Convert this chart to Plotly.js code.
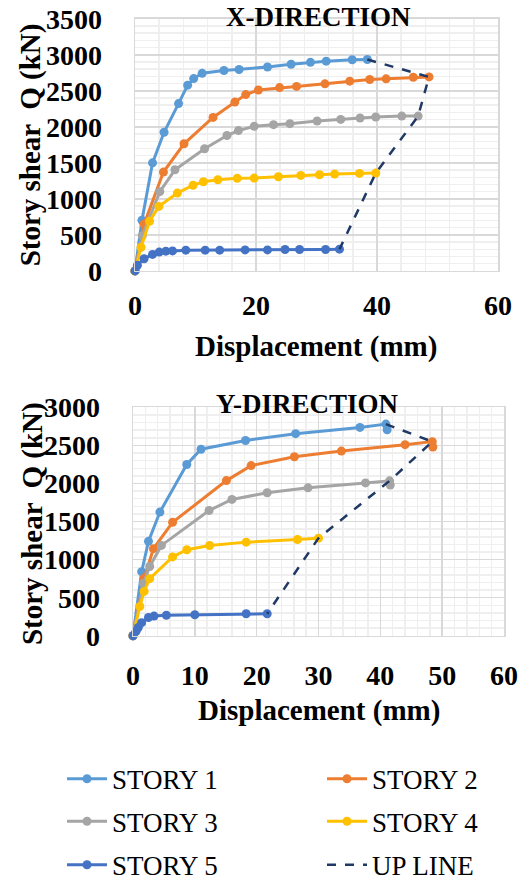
<!DOCTYPE html>
<html>
<head>
<meta charset="utf-8">
<script src="https://cdn.plot.ly/plotly-3.0.1.min.js"></script>
<style>html,body{margin:0;padding:0;background:#fff;}#chart{width:522px;height:890px;}</style>
</head>
<body>
<div id="chart"></div>
<script>
// ---------- X-DIRECTION data ----------
const seriesNames = ["STORY 1", "STORY 2", "STORY 3", "STORY 4", "STORY 5"];
const upLineName = "UP LINE";

const xS1x = [0, 1.15, 2.9, 4.8, 7.2, 8.7, 9.7, 11.1, 14.7, 17.2, 21.9, 25.8, 29.0, 31.6, 35.9, 38.4];
const xS1y = [0, 704, 1500, 1925, 2323, 2579, 2670, 2743, 2782, 2796, 2830, 2869, 2895, 2912, 2931, 2935];
const xS2x = [0, 1.5, 4.7, 8.1, 12.9, 16.5, 18.3, 20.4, 23.9, 26.7, 31.4, 35.5, 38.8, 41.5, 46.0, 48.6];
const xS2y = [0, 649, 1372, 1765, 2131, 2344, 2448, 2512, 2545, 2561, 2597, 2634, 2657, 2666, 2689, 2693];
const xS3x = [0, 1.2, 4.1, 6.6, 11.5, 15.2, 17.1, 19.7, 22.9, 25.6, 30.1, 34.0, 37.2, 39.8, 44.1, 46.8];
const xS3y = [0, 490, 1100, 1404, 1696, 1879, 1948, 2007, 2030, 2044, 2081, 2103, 2122, 2136, 2149, 2149];
const xS4x = [0, 1.0, 2.4, 3.95, 7.0, 9.6, 11.3, 13.7, 16.9, 19.7, 23.7, 27.4, 30.5, 33.0, 37.1, 39.8];
const xS4y = [0, 329, 690, 896, 1080, 1190, 1237, 1266, 1285, 1289, 1307, 1326, 1335, 1344, 1354, 1358];
const xS5x = [0, 0.4, 1.5, 2.9, 4.0, 5.1, 6.2, 8.4, 11.6, 14.0, 18.2, 21.9, 24.8, 27.2, 31.5, 33.8];
const xS5y = [0, 78, 169, 229, 261, 274, 278, 288, 288, 288, 292, 292, 298, 298, 298, 302];
const xUpx = [38.4, 48.6, 46.8, 39.8, 33.8];
const xUpy = [2935, 2693, 2149, 1358, 302];

// ---------- Y-DIRECTION data ----------
const yS1x = [0, 1.4, 2.5, 4.35, 8.7, 11.0, 18.2, 26.3, 36.7, 40.9, 41.1];
const yS1y = [0, 842, 1240, 1625, 2250, 2450, 2565, 2655, 2737, 2780, 2705];
const yS2x = [0, 1.8, 3.3, 6.4, 15.1, 19.1, 26.1, 33.7, 44.0, 48.4, 48.5];
const yS2y = [0, 755, 1144, 1490, 2038, 2235, 2352, 2426, 2510, 2550, 2480];
const yS3x = [0, 1.7, 2.7, 4.6, 12.3, 16.0, 21.7, 28.3, 37.6, 41.5, 41.6];
const yS3y = [0, 690, 910, 1187, 1645, 1791, 1878, 1943, 2008, 2035, 1980];
const yS4x = [0, 1.1, 1.8, 2.7, 6.4, 8.7, 12.4, 18.3, 26.6, 30.0];
const yS4y = [0, 385, 583, 750, 1036, 1130, 1185, 1230, 1264, 1282];
const yS5x = [0, 0.5, 0.85, 1.4, 2.5, 3.4, 5.4, 10.0, 18.3, 21.7];
const yS5y = [0, 60, 108, 172, 240, 259, 270, 276, 289, 289];
const yUpx = [40.9, 48.4, 41.5, 30.0, 21.7];
const yUpy = [2780, 2550, 2035, 1282, 289];

const xTickVals1 = [0, 20, 40, 60];
const xTickVals2 = [0, 10, 20, 30, 40, 50, 60];
const yTickVals1 = [0, 500, 1000, 1500, 2000, 2500, 3000, 3500];
const yTickVals2 = [0, 500, 1000, 1500, 2000, 2500, 3000];

const colors = ["#5B9BD5", "#ED7D31", "#A5A5A5", "#FFC000", "#4472C4"];
const upColor = "#1F3864";
const legendOf = ["legend", "legend2", "legend3", "legend4", "legend5"];

const W = 522, H = 890;
const FONT = "Liberation Serif";

function storyTrace(x, y, i, xa, ya, show) {
  return {
    x: x, y: y, type: "scatter", mode: "lines+markers", name: seriesNames[i],
    xaxis: xa, yaxis: ya, showlegend: show, legend: legendOf[i],
    line: {color: colors[i], width: 3},
    marker: {color: colors[i], size: 9},
    cliponaxis: false
  };
}
function upTrace(x, y, xa, ya, show) {
  return {
    x: x, y: y, type: "scatter", mode: "lines", name: upLineName,
    xaxis: xa, yaxis: ya, showlegend: show, legend: "legend6",
    line: {color: upColor, width: 2.5, dash: "dash"},
    cliponaxis: false
  };
}

const topX = [xS1x, xS2x, xS3x, xS4x, xS5x];
const topY = [xS1y, xS2y, xS3y, xS4y, xS5y];
const botX = [yS1x, yS2x, yS3x, yS4x, yS5x];
const botY = [yS1y, yS2y, yS3y, yS4y, yS5y];

const traces = [];
for (let i = 0; i < 5; i++) traces.push(storyTrace(topX[i], topY[i], i, "x", "y", true));
traces.push(upTrace(xUpx, xUpy, "x", "y", true));
for (let i = 0; i < 5; i++) traces.push(storyTrace(botX[i], botY[i], i, "x2", "y2", false));
traces.push(upTrace(yUpx, yUpy, "x2", "y2", false));

const tickFont = {family: FONT, size: 28, color: "#000", weight: "bold"};
const titleFont = {family: FONT, size: 29, color: "#000", weight: "bold"};
const legFont = {family: FONT, size: 27, color: "#000"};

function axisBase(extra) {
  return Object.assign({
    showgrid: true, gridcolor: "#d9d9d9", gridwidth: 1.5,
    zeroline: false, showline: true, mirror: true, linecolor: "#d9d9d9", linewidth: 1.5,
    ticks: "", tickfont: tickFont, tickmode: "array", fixedrange: true
  }, extra);
}
const yTickExtra = {ticks: "outside", ticklen: 26, tickcolor: "rgba(0,0,0,0)", ticklabelstandoff: 0};

const px = v => v / W;
const py = v => 1 - v / H;

function legendAt(xPix, yPix) {
  return {orientation: "v", x: px(xPix), xanchor: "left", y: py(yPix), yanchor: "middle",
    font: legFont, bgcolor: "rgba(0,0,0,0)", itemwidth: 40};
}

const layout = {
  width: W, height: H,
  margin: {l: 0, r: 0, t: 0, b: 0},
  paper_bgcolor: "#fff", plot_bgcolor: "#fff",
  showlegend: true,
  xaxis: axisBase({domain: [px(135), px(498)], range: [0, 60], tickvals: xTickVals1, ticklabelstandoff: 9,
    anchor: "y", minor: {dtick: 4, showgrid: true, gridcolor: "#efefef", gridwidth: 1.5}}),
  yaxis: axisBase(Object.assign({domain: [py(274), py(19)], range: [0, 3500], tickvals: yTickVals1,
    anchor: "x", minor: {dtick: 100, showgrid: true, gridcolor: "#efefef", gridwidth: 1.5, ticks: ""}}, yTickExtra)),
  xaxis2: axisBase({domain: [px(133), px(504)], range: [0, 60], tickvals: xTickVals2, ticklabelstandoff: 14,
    anchor: "y2", minor: {dtick: 2, showgrid: true, gridcolor: "#efefef", gridwidth: 1.5}}),
  yaxis2: axisBase(Object.assign({domain: [py(643), py(412)], range: [0, 3000], tickvals: yTickVals2,
    anchor: "x2", minor: {dtick: 100, showgrid: true, gridcolor: "#efefef", gridwidth: 1.5, ticks: ""}}, yTickExtra)),
  legend: legendAt(62, 788),
  legend2: legendAt(322, 788),
  legend3: legendAt(62, 831),
  legend4: legendAt(322, 831),
  legend5: legendAt(62, 875),
  legend6: legendAt(322, 875),
  annotations: [
    {text: "X-DIRECTION", xref: "paper", yref: "paper", x: px(318), y: py(17), showarrow: false,
      xanchor: "center", yanchor: "middle", font: {family: FONT, size: 27, color: "#000", weight: "bold"}},
    {text: "Y-DIRECTION", xref: "paper", yref: "paper", x: px(307), y: py(409), showarrow: false,
      xanchor: "center", yanchor: "middle", font: {family: FONT, size: 27, color: "#000", weight: "bold"}},
    {text: "Story shear \u00A0Q (kN)", xref: "paper", yref: "paper", x: px(30), y: py(147), showarrow: false,
      textangle: -90, xanchor: "center", yanchor: "middle", font: titleFont},
    {text: "Story shear \u00A0Q (kN)", xref: "paper", yref: "paper", x: px(32), y: py(530), showarrow: false,
      textangle: -90, xanchor: "center", yanchor: "middle", font: titleFont},
    {text: "Displacement (mm)", xref: "paper", yref: "paper", x: px(316), y: py(350), showarrow: false,
      xanchor: "center", yanchor: "middle", font: titleFont},
    {text: "Displacement (mm)", xref: "paper", yref: "paper", x: px(319), y: py(719), showarrow: false,
      xanchor: "center", yanchor: "middle", font: titleFont}
  ]
};

Plotly.newPlot("chart", traces, layout, {staticPlot: true, displayModeBar: false});
</script>
</body>
</html>
